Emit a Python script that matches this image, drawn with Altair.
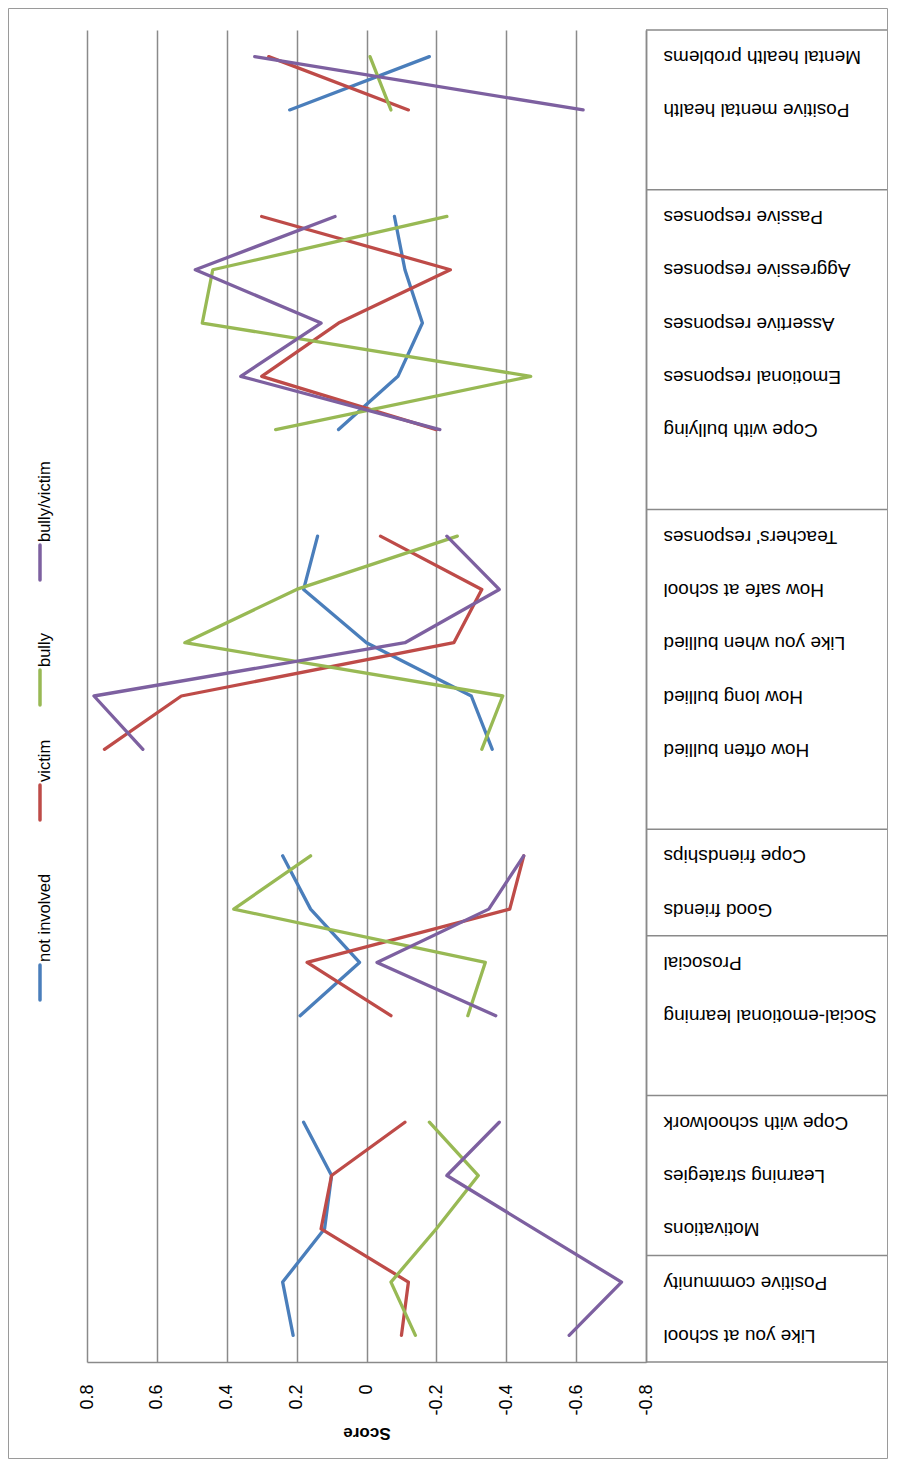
import json
import altair as alt
import pandas as pd

# ---------------- data ----------------
categories = [
    "Like you at school", "Positive community", "Motivations", "Learning strategies",
    "Cope with schoolwork", "", "Social-emotional learning", "Prosocial", "Good friends",
    "Cope friendships", "", "How often bullied", "How long bullied", "Like you when bullied",
    "How safe at school", "Teachers' responses", "", "Cope with bullying",
    "Emotional responses", "Assertive responses", "Aggressive responses",
    "Passive responses", "", "Positive mental health", "Mental health  problems",
]

series_names = ["not involved", "victim", "bully", "bully/victim"]

not_involved = [0.21, 0.24, 0.12, 0.10, 0.18, None, 0.19, 0.02, 0.16, 0.24, None,
                -0.36, -0.30, 0.00, 0.18, 0.14, None, 0.08, -0.09, -0.16, -0.11, -0.08,
                None, 0.22, -0.18]
victim = [-0.10, -0.12, 0.13, 0.10, -0.11, None, -0.07, 0.17, -0.41, -0.45, None,
          0.75, 0.53, -0.25, -0.33, -0.04, None, -0.20, 0.30, 0.08, -0.24, 0.30,
          None, -0.12, 0.28]
bully = [-0.14, -0.07, -0.20, -0.32, -0.18, None, -0.29, -0.34, 0.38, 0.16, None,
         -0.33, -0.39, 0.52, 0.20, -0.26, None, 0.26, -0.47, 0.47, 0.44, -0.23,
         None, -0.07, -0.01]
bully_victim = [-0.58, -0.73, -0.48, -0.23, -0.38, None, -0.37, -0.03, -0.35, -0.45, None,
                0.64, 0.78, -0.11, -0.38, -0.23, None, -0.21, 0.36, 0.13, 0.49, 0.09,
                None, -0.62, 0.32]

group_bounds = [-0.5, 1.5, 4.5, 7.5, 9.5, 15.5, 21.5, 24.5]
score_ticks = [0.8, 0.6, 0.4, 0.2, 0.0, -0.2, -0.4, -0.6, -0.8]
score_tick_labels = ["0.8", "0.6", "0.4", "0.2", "0", "-0.2", "-0.4", "-0.6", "-0.8"]

# ---------------- styles / layout ----------------
colors = ["#4A7EBB", "#BE4B48", "#98B954", "#7D60A0"]
FONT = "Liberation Sans"
GRID = "#8a8a8a"
BORDER = "#9a9a9a"
W, H = 559, 1332
PAD_L, PAD_T, PAD_R, PAD_B = 79, 22, 243, 98

# legend layout (screen pixels of symbol bottoms), symbol length
legend_sym_bottom = [1000, 820, 705, 580]
SYM_LEN = 35

# ---------------- build tables ----------------
rows = []
for name, vals in zip(series_names, [not_involved, victim, bully, bully_victim]):
    seg = 0
    for i, v in enumerate(vals):
        if categories[i] == "":
            seg += 1
            continue
        if v is None:
            continue
        rows.append({"series": name, "slot": i, "score": v, "segment": f"{name}-{seg}"})
df = pd.DataFrame(rows)

cscale = alt.Scale(domain=series_names, range=colors)
xs = alt.Scale(domain=[-0.8, 0.8], reverse=True, nice=False, zero=False)
ys = alt.Scale(domain=[-0.5, 24.5], nice=False, zero=False)

x_axis = alt.Axis(
    values=score_ticks,
    labelExpr=json.dumps(score_tick_labels) + "[round((0.8 - datum.value) * 5)]",
    grid=True, gridColor=GRID, gridWidth=1.5,
    ticks=False, domainColor=GRID, domainWidth=1.5,
    labelAngle=270, labelAlign="right", labelBaseline="middle", labelPadding=22,
    labelFontSize=18, labelFont=FONT, labelColor="black",
    labelOverlap=False, labelFlush=False, labelBound=False,
    title="Score", titleAngle=180, titleFontSize=17, titleFont=FONT,
    titleFontWeight="bold", titleColor="black",
    titleX=W / 2, titleY=70, titleAlign="center", titleBaseline="middle",
)
y_axis = alt.Axis(
    orient="right",
    values=[i for i, c in enumerate(categories) if c],
    labelExpr=json.dumps(categories) + "[datum.value]",
    grid=False, ticks=False, domainColor=GRID, domainWidth=1.5,
    labelAngle=180, labelAlign="right", labelBaseline="middle", labelPadding=17,
    labelFontSize=19, labelFont=FONT, labelColor="black", labelLimit=400,
    labelOverlap=False, labelFlush=False, labelBound=False,
    title=None,
)

layers = []

# series lines (first, so they define the axes)
for name in series_names:
    layers.append(
        alt.Chart(df[df.series == name]).mark_line(
            strokeWidth=3.3, strokeCap="round", strokeJoin="round"
        ).encode(
            x=alt.X("score:Q", scale=xs, axis=x_axis),
            y=alt.Y("slot:Q", scale=ys, axis=y_axis),
            color=alt.Color("series:N", scale=cscale, legend=None),
            detail="segment:N",
            order="slot:Q",
        )
    )

# category group separators in the label box
seps = alt.Chart(pd.DataFrame({"b": group_bounds})).mark_rule(
    color=GRID, strokeWidth=1.5
).encode(
    y=alt.Y("b:Q", scale=ys, axis=y_axis),
    x=alt.value(W), x2=alt.value(W + PAD_R - 1.5),
)
layers.append(seps)

# outer border
border = alt.Chart(pd.DataFrame({"k": [0]})).mark_rect(
    fillOpacity=0, stroke=BORDER, strokeWidth=1
).encode(
    x=alt.value(-PAD_L + 0.5), x2=alt.value(W + PAD_R - 1.5),
    y=alt.value(-PAD_T + 0.5), y2=alt.value(H + PAD_B - 1.5),
)
layers.append(border)

# custom rotated legend
leg = pd.DataFrame({
    "series": series_names,
    "yb": [b - 8 - PAD_T for b in legend_sym_bottom],
})
leg["yt"] = leg["yb"] - SYM_LEN
leg["ty"] = leg["yt"] - 3

layers.append(
    alt.Chart(leg).mark_rule(strokeWidth=3.5, strokeCap="round").encode(
        x=alt.value(40 - 8 - PAD_L),
        y=alt.Y("yb:Q", scale=None, axis=None),
        y2="yt:Q",
        color=alt.Color("series:N", scale=cscale, legend=None),
    )
)
layers.append(
    alt.Chart(leg).mark_text(
        angle=270, align="left", baseline="middle", fontSize=16.5, font=FONT, color="black"
    ).encode(
        x=alt.value(45 - 8 - PAD_L),
        y=alt.Y("ty:Q", scale=None, axis=None),
        text="series:N",
    )
)

chart = alt.layer(*layers).properties(
    width=W, height=H,
    padding={"left": PAD_L, "top": PAD_T, "right": PAD_R, "bottom": PAD_B},
    autosize=alt.AutoSizeParams(type="none"),
    background="white",
).configure_view(strokeWidth=0)

chart.save("out.html", embed_options={"renderer": "svg", "actions": False})
